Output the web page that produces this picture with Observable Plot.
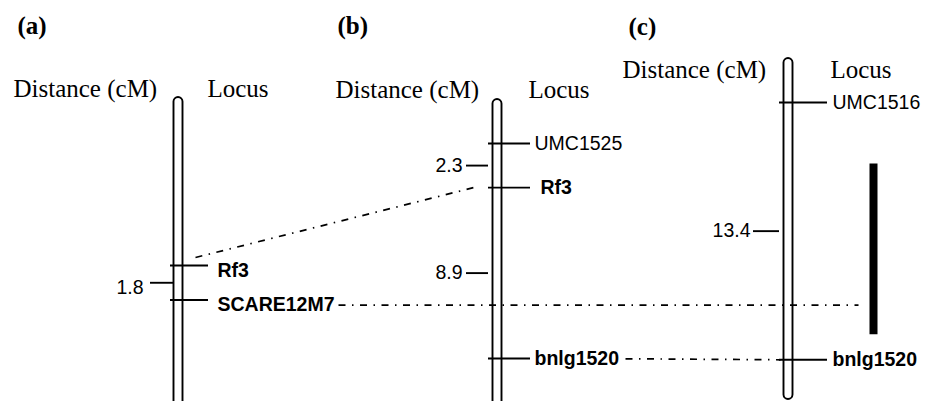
<!DOCTYPE html>
<html><head><meta charset="utf-8">
<script src="https://cdn.jsdelivr.net/npm/d3@7"></script>
<script src="https://cdn.jsdelivr.net/npm/@observablehq/plot@0.6"></script>
<style>html,body{margin:0;padding:0;background:#fff;overflow:hidden}</style>
</head><body><div id="chart"></div>
<script>
// ---------- data ----------
const panelIds = ["a", "b", "c"];
const panelTitles = ["(a)", "(b)", "(c)"];
const distanceHeader = "Distance (cM)";
const locusHeader = "Locus";
const lociA = ["Rf3", "SCARE12M7"];
const distA = [1.8];
const lociB = ["UMC1525", "Rf3", "bnlg1520"];
const distB = [2.3, 8.9];
const lociC = ["UMC1516", "bnlg1520"];
const distC = [13.4];
const boldLoci = ["Rf3", "SCARE12M7", "bnlg1520"];
const intervalC = [3.2, 12.1];          // black bar on panel (c), cM below UMC1516
const linkPairs = [
  ["a", "Rf3", "b", "Rf3"],
  ["a", "SCARE12M7", "c", "interval"],
  ["b", "bnlg1520", "c", "bnlg1520"]
];

// ---------- layout ----------
const W = 927, H = 401, K = 19.2;   // K: pixels per cM
const L = {
  a: {x: 178, first: 265, top: 97, bottom: 460, tickL: -8, tickR: 30, distL: -28, distR: -5, labX: 39, labDy: 5, distLabX: -35,
      titleX: 17, titleY: 33, headY: 96.5, distHX: 13, locHX: 207},
  b: {x: 497, first: 143, top: 99, bottom: 460, tickL: -9, tickR: 33, distL: -31, distR: -9, labX: 37, labDy: 0, distLabX: -35,
      titleX: 337, titleY: 33, headY: 97, distHX: 335, locHX: 528},
  c: {x: 788, first: 102, top: 58, bottom: 399, tickL: -9, tickR: 39, distL: -35, distR: -9, labX: 44, labDy: 0, distLabX: -38,
      titleX: 628, titleY: 34, headY: 77, distHX: 622, locHX: 830}
};
const labelNudge = {"b:Rf3": 6};
const px = v => v / K;
const lociBy = {a: lociA, b: lociB, c: lociC};
const distBy = {a: distA, b: distB, c: distC};

const loci = [], dists = [];
for (const p of panelIds) {
  let cm = 0;
  const cums = [0];
  distBy[p].forEach(d => { cm += d; cums.push(cm); });
  lociBy[p].forEach((name, i) => loci.push({panel: p, name, cM: cums[i], bold: boldLoci.includes(name)}));
  distBy[p].forEach((d, i) => dists.push({panel: p, value: d, cM: (cums[i] + cums[i + 1]) / 2}));
}
const yOf = (p, cM) => px(L[p].first) + cM;
const locus = (p, name) => loci.find(d => d.panel === p && d.name === name);
const labX = d => L[d.panel].x + L[d.panel].labX + (labelNudge[d.panel + ":" + d.name] || 0);

const linkData = linkPairs.map(([p1, n1, p2, n2]) => ({p1, n1, p2, n2}));
const linkGeom = [
  d => ({x1: L.a.x + 17, y1: yOf("a", locus("a", "Rf3").cM) - px(8), x2: L.b.x - 20, y2: yOf("b", locus("b", "Rf3").cM) - px(1)}),
  d => ({x1: L.a.x + 160, y1: yOf("a", locus("a", "SCARE12M7").cM) + px(5), x2: L.c.x + 70, y2: yOf("a", locus("a", "SCARE12M7").cM) + px(5)}),
  d => ({x1: L.b.x + 128, y1: yOf("c", locus("c", "bnlg1520").cM) - px(1), x2: L.c.x - 8, y2: yOf("c", locus("c", "bnlg1520").cM)})
];
const links = linkData.map((d, i) => ({...d, ...linkGeom[i](d)}));

const serif = "Liberation Serif, Times New Roman, serif";
const sans = "Liberation Sans, Arial, Helvetica, sans-serif";
const headers = panelIds.map((p, i) => ({p, title: panelTitles[i]}));

const chart = Plot.plot({
  width: W, height: H, margin: 0,
  style: {background: "white", overflow: "hidden"},
  x: {domain: [0, W], range: [0, W], axis: null},
  y: {domain: [0, px(H)], range: [0, H], axis: null},
  marks: [
    // chromosomes
    Plot.rect(panelIds, {x1: p => L[p].x - 4.5, x2: p => L[p].x + 4.5, y1: p => px(L[p].top), y2: p => px(L[p].bottom),
      rx: 4.5, fill: "white", stroke: "black", strokeWidth: 1.9, clip: true}),
    // locus ticks
    Plot.ruleY(loci, {y: d => yOf(d.panel, d.cM), x1: d => L[d.panel].x + L[d.panel].tickL, x2: d => L[d.panel].x + L[d.panel].tickR,
      stroke: "black", strokeWidth: 1.9}),
    // distance ticks
    Plot.ruleY(dists, {y: d => yOf(d.panel, d.cM), x1: d => L[d.panel].x + L[d.panel].distL, x2: d => L[d.panel].x + L[d.panel].distR,
      stroke: "black", strokeWidth: 1.9}),
    // links
    Plot.link(links, {x1: "x1", y1: "y1", x2: "x2", y2: "y2", stroke: "black", strokeWidth: 1.7, strokeDasharray: "7,6.5,1.5,6.5"}),
    // black interval bar
    Plot.ruleX([intervalC], {x: () => L.c.x + 85, y1: d => yOf("c", d[0]), y2: d => yOf("c", d[1]), stroke: "black", strokeWidth: 8}),
    // locus labels
    Plot.text(loci.filter(d => d.bold), {x: labX, y: d => yOf(d.panel, d.cM) + px(L[d.panel].labDy),
      text: "name", textAnchor: "start", lineAnchor: "middle", fontFamily: sans, fontSize: 19.5, fontWeight: "bold", fill: "black"}),
    Plot.text(loci.filter(d => !d.bold), {x: labX, y: d => yOf(d.panel, d.cM) + px(L[d.panel].labDy),
      text: "name", textAnchor: "start", lineAnchor: "middle", fontFamily: sans, fontSize: 19.5, fill: "black"}),
    // distance labels
    Plot.text(dists, {x: d => L[d.panel].x + L[d.panel].distLabX, y: d => yOf(d.panel, d.cM) + px(L[d.panel].labDy),
      text: d => String(d.value), textAnchor: "end", lineAnchor: "middle", fontFamily: sans, fontSize: 19.5, fill: "black"}),
    // headers
    Plot.text(headers, {x: d => L[d.p].titleX, y: d => px(L[d.p].titleY), text: "title", textAnchor: "start", lineAnchor: "bottom",
      fontFamily: serif, fontSize: 25, fontWeight: "bold", fill: "black"}),
    Plot.text(headers, {x: d => L[d.p].distHX, y: d => px(L[d.p].headY), text: () => distanceHeader, textAnchor: "start", lineAnchor: "bottom",
      fontFamily: serif, fontSize: 25, fill: "black"}),
    Plot.text(headers, {x: d => L[d.p].locHX, y: d => px(L[d.p].headY), text: () => locusHeader, textAnchor: "start", lineAnchor: "bottom",
      fontFamily: serif, fontSize: 25, fill: "black"})
  ]
});
document.getElementById("chart").appendChild(chart);
</script>
</body></html>
